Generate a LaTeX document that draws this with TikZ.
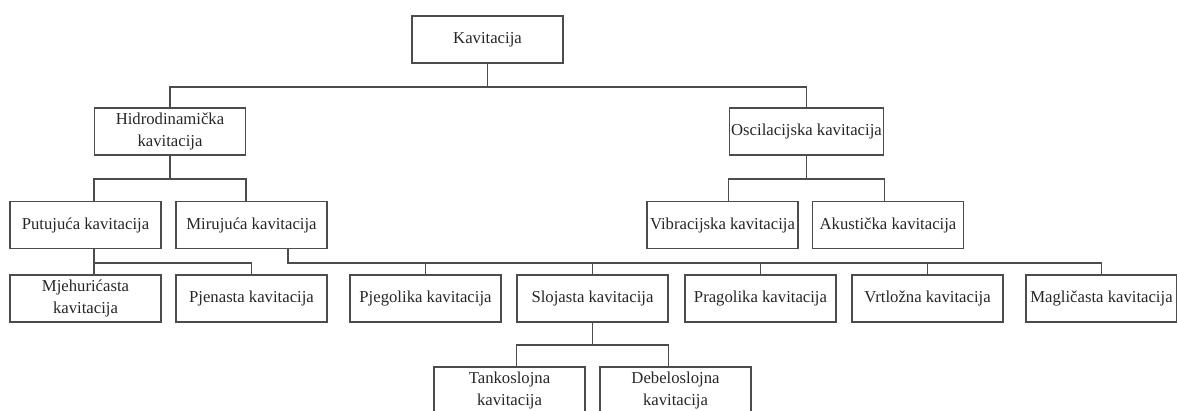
\documentclass[tikz,border=0pt]{standalone}
\usepackage{fontspec}
\setmainfont{Liberation Serif}
\usepackage{tikz}

\tikzset{
  kbox/.style={draw=black!70, line width=0.6pt, minimum width=3.02cm, minimum height=0.94cm,
    align=center, inner sep=1pt, text=black!85, font=\fontsize{9.5}{12}\selectfont},
  veza/.style={draw=black!70, line width=0.6pt}
}

\begin{document}
\begin{tikzpicture}[x=0.02cm, y=-0.02cm]
      \useasboundingbox (0,0) rectangle (1177,410);
      % Nivo 0
      \node[kbox] (kav) at (487.5, 39.5) {Kavitacija};
      % Nivo 1
      \node[kbox] (hidro) at (170, 131.5) {Hidrodinamička\\kavitacija};
      \node[kbox] (osc) at (806.5, 131.5) {Oscilacijska kavitacija};
      % Nivo 2
      \node[kbox] (put) at (85.5, 225) {Putujuća kavitacija};
      \node[kbox] (mir) at (251.5, 225) {Mirujuća kavitacija};
      \node[kbox] (vib) at (722.5, 225) {Vibracijska kavitacija};
      \node[kbox] (aku) at (888, 225) {Akustička kavitacija};
      % Nivo 3
      \node[kbox] (mje) at (85.5, 298.5) {Mjehurićasta\\kavitacija};
      \node[kbox] (pje) at (251.5, 298.5) {Pjenasta kavitacija};
      \node[kbox] (pjeg) at (425.5, 298.5) {Pjegolika kavitacija};
      \node[kbox] (sloj) at (592.5, 298.5) {Slojasta kavitacija};
      \node[kbox] (prag) at (760.5, 298.5) {Pragolika kavitacija};
      \node[kbox] (vrt) at (927.5, 298.5) {Vrtložna kavitacija};
      \node[kbox] (mag) at (1101.5, 298.5) {Magličasta kavitacija};
      % Nivo 4
      \node[kbox] (tank) at (509.5, 390.5) {Tankoslojna\\kavitacija};
      \node[kbox] (deb) at (675.5, 390.5) {Debeloslojna\\kavitacija};

      % sabirnice
      \coordinate (b1) at (0, 87);
      \coordinate (b2) at (0, 179);
      \coordinate (b3) at (0, 263);
      \coordinate (b4) at (0, 345);

      % Kavitacija
      \draw[veza] (kav.south) -- (kav.south |- b1);
      \draw[veza] (hidro.north) |- (osc.north |- b1) -- (osc.north);
      % Hidrodinamička
      \draw[veza] (hidro.south) -- (hidro.south |- b2);
      \draw[veza] (put.north -| hidro.south west) |- (hidro.south east |- b2) -- (mir.north -| hidro.south east);
      % Oscilacijska
      \draw[veza] (osc.south) -- (osc.south |- b2);
      \draw[veza] (vib.north -| osc.south west) |- (osc.south east |- b2) -- (aku.north -| osc.south east);
      % Putujuća
      \draw[veza] (put.south -| hidro.south west) -- (mje.north -| hidro.south west);
      \draw[veza] (hidro.south west |- b3) -| (pje.north);
      % Mirujuća
      \draw[veza] ([xshift=0.73cm]mir.south) |- (mag.north |- b3) -- (mag.north);
      \foreach \n in {pjeg, sloj, prag, vrt}
        \draw[veza] (\n.north) -- (\n.north |- b3);
      % Slojasta
      \draw[veza] (sloj.south) -- (sloj.south |- b4);
      \draw[veza] (tank.north -| sloj.south west) |- (sloj.south east |- b4) -- (deb.north -| sloj.south east);

    \end{tikzpicture}
\end{document}
